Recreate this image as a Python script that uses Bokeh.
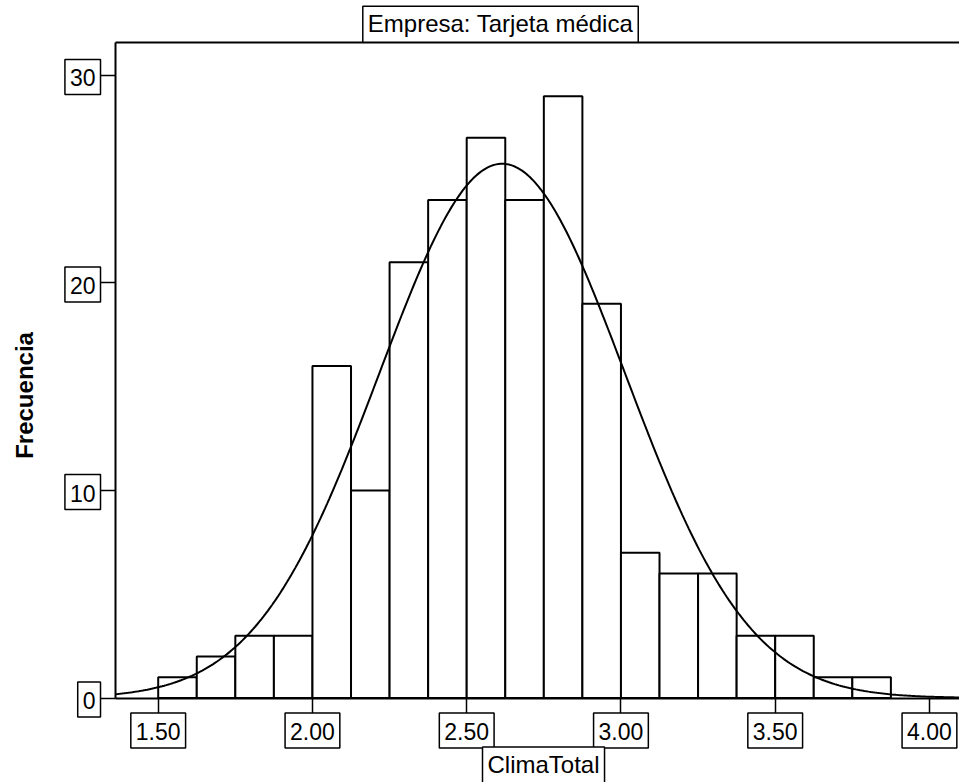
import math
import numpy as np
from bokeh.plotting import figure
from bokeh.models import Range1d, Label, FixedTicker, ColumnDataSource, LinearAxis
from bokeh.embed import file_html
from bokeh.resources import INLINE

# ---------------- data ----------------
bin_lefts = [1.500, 1.625, 1.750, 1.875, 2.000, 2.125, 2.250, 2.375, 2.500, 2.625,
             2.750, 2.875, 3.000, 3.125, 3.250, 3.375, 3.500, 3.625, 3.750]
counts = [1, 2, 3, 3, 16, 10, 21, 24, 27, 24, 29, 19, 7, 6, 6, 3, 3, 1, 1]
bin_width = 0.125
x_ticks = [1.5, 2.0, 2.5, 3.0, 3.5, 4.0]
x_tick_labels = ["1.50", "2.00", "2.50", "3.00", "3.50", "4.00"]
y_ticks = [0, 10, 20, 30]
y_tick_labels = ["0", "10", "20", "30"]
curve_mean = 2.615   # normal curve parameters
curve_sd = 0.399
n_total = sum(counts)
title_text = "Empresa: Tarjeta médica"
x_title = "ClimaTotal"
y_title = "Frecuencia"

# ---------------- layout ----------------
# the drawing area spans the whole canvas; the plot box is drawn inside it
X_LEFT, X_END = 1.3616, 4.0974        # plot box in x
Y_BOTTOM, Y_TOP = 0.0, 31.6           # plot box in y
CANVAS_X = (0.9888, 4.0974)
CANVAS_Y = (-4.072, 33.614)
TITLE_X = 2.6096
XTITLE_X = 2.749
YTITLE_Y = 14.58
FONT = "Liberation Sans"
TICK = 15      # tick length, px
BOX_H = 35     # height of a boxed label, px
BOX_PAD = dict(left=5, right=5, top=10, bottom=8)
TITLE_PAD = dict(left=5, right=5, top=4, bottom=5)

p = figure(width=959, height=782, output_backend="svg", toolbar_location=None,
           x_range=Range1d(*CANVAS_X), y_range=Range1d(*CANVAS_Y),
           x_axis_location=None, y_axis_location=None,
           min_border_left=0, min_border_right=0, min_border_top=0, min_border_bottom=0,
           title=None)
p.outline_line_color = None
p.background_fill_color = "white"
p.border_fill_color = "white"
p.grid.visible = False


def make_axis(ticks, loc, bounds, tick_len=TICK):
    ax = LinearAxis(fixed_location=loc, bounds=bounds, ticker=FixedTicker(ticks=ticks))
    ax.axis_line_width = 2
    ax.axis_line_color = "black"
    ax.major_tick_in = 0
    ax.major_tick_out = tick_len
    ax.major_tick_line_width = 1.5
    ax.major_tick_line_color = "black" if tick_len else None
    ax.minor_tick_line_color = None
    ax.major_label_overrides = {t: "" for t in ticks}
    return ax


p.add_layout(make_axis(y_ticks, X_LEFT, (Y_BOTTOM, Y_TOP)), "left")
p.add_layout(make_axis(x_ticks, Y_BOTTOM, (X_LEFT, X_END)), "below")
p.add_layout(make_axis([], Y_TOP, (X_LEFT, X_END), tick_len=0), "above")

# histogram bars
src = ColumnDataSource(dict(
    left=bin_lefts,
    right=[b + bin_width for b in bin_lefts],
    top=counts,
    bottom=[0] * len(counts),
))
p.quad(left="left", right="right", top="top", bottom="bottom", source=src,
       fill_color="white", line_color="black", line_width=2)

# normal curve
xs = np.linspace(X_LEFT, X_END, 400)
ys = n_total * bin_width / (curve_sd * math.sqrt(2 * math.pi)) * np.exp(-0.5 * ((xs - curve_mean) / curve_sd) ** 2)
p.line(xs, ys, line_color="black", line_width=2)


def boxed(text, size="23px", padding=BOX_PAD, **kw):
    return Label(text=text, text_font=FONT, text_font_size=size, text_color="black",
                 border_line_color="black", border_line_width=1.5,
                 background_fill_color="white", padding=padding, text_baseline="bottom", **kw)


for t, lab in zip(x_ticks, x_tick_labels):
    p.add_layout(boxed(lab, x=t, y=Y_BOTTOM, y_offset=-(TICK + BOX_H), text_align="center"))
for t, lab in zip(y_ticks, y_tick_labels):
    p.add_layout(boxed(lab, x=X_LEFT, y=t, x_offset=-TICK, y_offset=-19, text_align="right"))

# title and axis titles
p.add_layout(boxed(title_text, size="24px", padding=TITLE_PAD, x=TITLE_X, y=Y_TOP, text_align="center"))
p.add_layout(boxed(x_title, size="24px", padding=TITLE_PAD, x=XTITLE_X, y=Y_BOTTOM,
                   y_offset=-(TICK + 2 * BOX_H), text_align="center"))
p.add_layout(Label(text=y_title, text_font=FONT, text_font_size="24px", text_font_style="bold",
                   text_color="black", x=X_LEFT, y=YTITLE_Y, x_offset=-91,
                   angle=math.pi / 2, text_align="center", text_baseline="middle"))

open("out.html", "w").write(file_html(p, INLINE))
